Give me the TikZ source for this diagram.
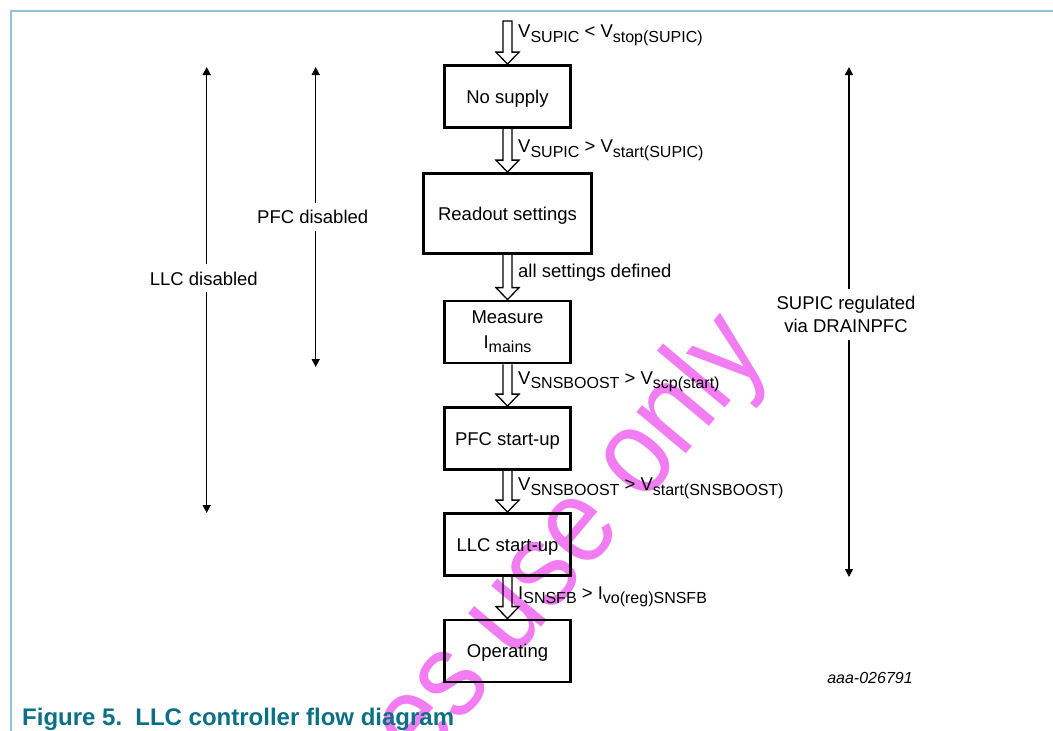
\documentclass[tikz,border=0pt]{standalone}
\usepackage{fontspec}
\setmainfont{Liberation Sans}
\newfontfamily\stampfont[FakeStretch=0.88]{Liberation Sans}
\usetikzlibrary{arrows.meta,calc}
\definecolor{frameblue}{RGB}{140,196,212}
\definecolor{captionteal}{RGB}{10,112,135}
\definecolor{stamp}{RGB}{242,124,242}
% lowered subscript in the sans font
\newcommand\lowsub[1]{\raisebox{-4.5pt}{\fontsize{16}{16}\selectfont #1}}
% hollow flow arrow from a point (top) down to a node's north anchor (tip)
\newcommand\flowarrow[2]{%
  \draw[flow] ($(#1)+(-4.5,0)$) -- ($(#2)+(-4.5,-12)$) -- ++(-7,0) -- (#2)
    -- ++(11.5,-12) -- ++(-7,0) -- ($(#1)+(4.5,0)$);}

\begin{document}
\begin{tikzpicture}[x=1pt,y=-1pt,
  every node/.style={font=\fontsize{18.5}{22.5}\selectfont, inner sep=0pt},
  state/.style={draw, line width=2.8pt, minimum width=126pt, minimum height=62pt, align=center},
  oneline/.style={text height=13.5pt, text depth=0.5pt},
  cond/.style={anchor=base west},
  flow/.style={draw, line width=1.3pt, line join=miter},
  span/.style={line width=1.4pt, -{Triangle[width=8pt,length=8pt]}},
  rangelabel/.style={inner sep=7pt, align=center}]
\useasboundingbox (0,0) rectangle (1053,731);

% watermark
\begin{scope}
  \clip (0,0) rectangle (1053,731);
  \node[rotate=50, anchor=base west, text=stamp, font=\stampfont\fontsize{122}{122}\selectfont]
    (wm) at (421,770) {es use only};
\end{scope}

% frame
\draw[frameblue, line width=1.5pt] (11,731) -- (11,11) -- (1053,11);

% states
\node[state, oneline] (nosup) at (507.5,96.5) {No supply};
\node[state, oneline, minimum width=168pt, minimum height=80pt] (readout) at (507.5,213.5) {Readout settings};
\node[state] (measure) at (507.5,332) {Measure\\[2pt]I\lowsub{mains}};
\node[state, oneline] (pfc) at (507.5,438.5) {PFC start-up};
\node[state, oneline] (llc) at (507.5,544.5) {LLC start-up};
\node[state, oneline] (oper) at (507.5,651) {Operating};

% transitions
\coordinate (entry) at (507.5,21);
\draw[flow] ($(entry)+(-4.5,0)$) -- ($(nosup.north)+(-4.5,-12)$) -- ++(-7,0) -- (nosup.north)
  -- ++(11.5,-12) -- ++(-7,0) -- ($(entry)+(4.5,0)$) -- cycle;
\flowarrow{nosup.south}{readout.north}
\flowarrow{readout.south}{measure.north}
\flowarrow{measure.south}{pfc.north}
\flowarrow{pfc.south}{llc.north}
\flowarrow{llc.south}{oper.north}

% transition conditions
\node[cond] (c1) at (518,37.7) {V\lowsub{SUPIC} < V\lowsub{stop(SUPIC)}};
\node[cond] (c2) at (518,152.5) {V\lowsub{SUPIC} > V\lowsub{start(SUPIC)}};
\node[cond] (c3) at (518,277.7) {all settings defined};
\node[cond] (c4) at (518,384) {V\lowsub{SNSBOOST} > V\lowsub{scp(start)}};
\node[cond] (c5) at (518,490.7) {V\lowsub{SNSBOOST} > V\lowsub{start(SNSBOOST)}};
\node[cond] (c6) at (518,599) {I\lowsub{SNSFB} > I\lowsub{vo(reg)SNSFB}};

% range markers
\node[rangelabel, anchor=base] (llclab) at (203.8,285) {LLC disabled};
\coordinate (llctop) at (206.7,67);
\coordinate (llcbot) at (206.7,513);
\draw[span] (llclab.north -| llctop) -- (llctop);
\draw[span] (llclab.south -| llcbot) -- (llcbot);

\node[rangelabel, anchor=base] (pfclab) at (312.7,223.3) {PFC disabled};
\coordinate (pfctop) at (315.7,67);
\coordinate (pfcbot) at (315.7,367);
\draw[span] (pfclab.north -| pfctop) -- (pfctop);
\draw[span] (pfclab.south -| pfcbot) -- (pfcbot);

\node[rangelabel] (suplab) at (846,314.4) {SUPIC regulated\\via DRAINPFC};
\coordinate (suptop) at (849,67);
\coordinate (supbot) at (849,577);
\draw[span] (suplab.north -| suptop) -- (suptop);
\draw[span] (suplab.south -| supbot) -- (supbot);

% figure id and caption
\node[anchor=base, font=\fontsize{16}{16}\selectfont\itshape] (figid) at (870,683) {aaa-026791};
\node[anchor=base west, text=captionteal, font=\fontsize{24}{24}\selectfont\bfseries] (caption)
  at (22,725) {Figure 5.\hspace{0.55em}LLC controller flow diagram};
\end{tikzpicture}
\end{document}
